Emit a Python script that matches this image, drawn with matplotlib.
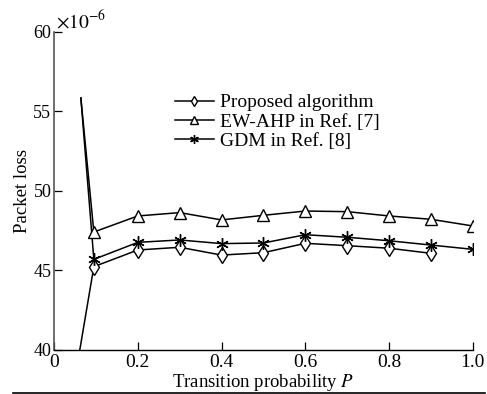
import matplotlib
matplotlib.use("Agg")
import matplotlib.pyplot as plt
from matplotlib.lines import Line2D

plt.rcParams['font.family'] = ['Liberation Serif', 'DejaVu Serif']
plt.rcParams['mathtext.fontset'] = 'stix'

# Data (values in units of 1e-6)
p_main = [0.095, 0.2, 0.3, 0.4, 0.5, 0.6, 0.7, 0.8, 0.9, 1.0]
proposed = [45.24, 46.29, 46.46, 45.97, 46.12, 46.71, 46.56, 46.40, 46.08]
ew_ahp = [47.42, 48.43, 48.64, 48.18, 48.47, 48.74, 48.70, 48.43, 48.22, 47.80]
gdm = [45.7, 46.77, 46.92, 46.69, 46.73, 47.25, 47.09, 46.87, 46.60, 46.33]
# stray leading points (no markers)
p_lead_top = 0.064
v_lead_top = 55.85
p_lead_bot = 0.055
v_lead_bot = 39.0

xticks = [0, 0.2, 0.4, 0.6, 0.8, 1.0]
xticklabels = ['0', '0.2', '0.4', '0.6', '0.8', '1.0']
yticks = [40, 45, 50, 55, 60]

fig = plt.figure(figsize=(4.87, 3.94), dpi=100)
ax = fig.add_axes([0.111, 0.1117, 0.860, 0.8071])

lw = 1.1
# leading segments
ax.plot([p_lead_bot, p_main[0]], [v_lead_bot, proposed[0]], color='black', lw=lw)
ax.plot([p_lead_top, p_main[0]], [v_lead_top, ew_ahp[0]], color='black', lw=lw)
ax.plot([p_lead_top, p_main[0]], [v_lead_top, gdm[0]], color='black', lw=lw)

ax.plot(p_main[:len(proposed)], proposed, color='black', lw=lw, marker='d',
        markersize=8, markerfacecolor='white', markeredgecolor='black',
        markeredgewidth=1.0, label='Proposed algorithm')
ax.plot(p_main, ew_ahp, color='black', lw=lw, marker='^', markersize=8,
        markerfacecolor='white', markeredgecolor='black', markeredgewidth=1.0,
        label='EW-AHP in Ref. [7]')
ax.plot(p_main, gdm, color='black', lw=lw, marker=(6, 2, 0), markersize=9,
        markeredgecolor='black', markeredgewidth=1.0, label='GDM in Ref. [8]')

ax.set_xlim(0, 1.0)
ax.set_ylim(40, 60)
ax.set_xticks(xticks)
ax.set_xticklabels(xticklabels)
ax.set_yticks(yticks)
ax.tick_params(direction='in', length=6, width=0.9, labelsize=13, pad=2)
ax.tick_params(axis='x', labelsize=14, pad=3)
ax.spines['top'].set_visible(False)
ax.spines['right'].set_visible(False)
ax.spines['left'].set_color('#555555')
ax.spines['left'].set_linewidth(1.2)
ax.spines['bottom'].set_linewidth(1.0)

ax.set_xlabel('Transition probability $P$', fontsize=13.5)
ax.xaxis.set_label_coords(0.5, -0.068)
ax.set_ylabel('Packet loss', fontsize=13.5, labelpad=2)

ax.text(0.005, 1.0, r'$\times10^{-6}$', transform=ax.transAxes, fontsize=14,
        ha='left', va='bottom')

leg = ax.legend(loc='upper left', bbox_to_anchor=(0.27, 0.83), frameon=False,
                fontsize=14, handlelength=2.0, handletextpad=0.3,
                labelspacing=0.08, borderaxespad=0, markerscale=0.7)

fig.add_artist(Line2D([0.027, 0.995], [0.003, 0.003], color='black', lw=1.2,
                      transform=fig.transFigure))

fig.savefig('out.png', dpi=100)
